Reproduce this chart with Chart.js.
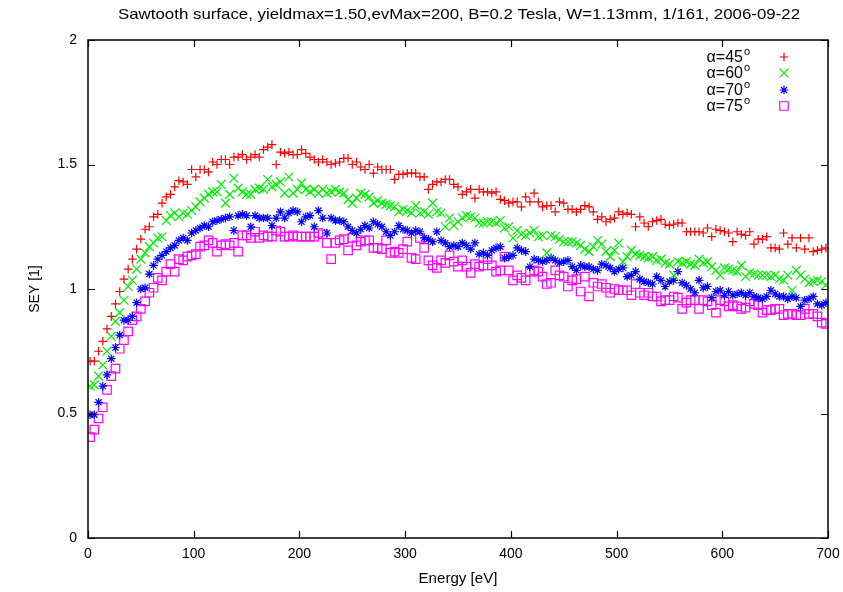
<!DOCTYPE html>
<html>
<head>
<meta charset="utf-8">
<script src="https://cdn.jsdelivr.net/npm/chart.js@4.4.1/dist/chart.umd.min.js"></script>
<style>
  html, body { margin: 0; padding: 0; background: #fff; }
</style>
</head>
<body>
<canvas id="chart" width="843" height="592"></canvas>
<script>
// energy grid in eV (bin centres)
const energy = [
  2, 6, 10, 14, 18, 22, 26, 30, 34, 38, 42, 46, 50, 54, 58, 62, 66, 70, 74, 78, 82, 86, 90, 94, 98,
  102, 106, 110, 114, 118, 122, 126, 130, 134, 138, 142, 146, 150, 154, 158, 162, 166, 170, 174, 178, 182, 186, 190, 194, 198,
  202, 206, 210, 214, 218, 222, 226, 230, 234, 238, 242, 246, 250, 254, 258, 262, 266, 270, 274, 278, 282, 286, 290, 294, 298,
  302, 306, 310, 314, 318, 322, 326, 330, 334, 338, 342, 346, 350, 354, 358, 362, 366, 370, 374, 378, 382, 386, 390, 394, 398,
  402, 406, 410, 414, 418, 422, 426, 430, 434, 438, 442, 446, 450, 454, 458, 462, 466, 470, 474, 478, 482, 486, 490, 494, 498,
  502, 506, 510, 514, 518, 522, 526, 530, 534, 538, 542, 546, 550, 554, 558, 562, 566, 570, 574, 578, 582, 586, 590, 594, 598,
  602, 606, 610, 614, 618, 622, 626, 630, 634, 638, 642, 646, 650, 654, 658, 662, 666, 670, 674, 678, 682, 686, 690, 694, 698
];

const sey45 = [
  0.71, 0.71, 0.75, 0.79, 0.84, 0.89, 0.94, 0.99, 1.04, 1.08, 1.12, 1.16, 1.20, 1.24, 1.25, 1.29, 1.30, 1.345, 1.37, 1.38, 1.41, 1.435, 1.43, 1.42, 1.48,
  1.45, 1.48, 1.48, 1.47, 1.51, 1.50, 1.52, 1.52, 1.50, 1.53, 1.53, 1.54, 1.52, 1.53, 1.54, 1.53, 1.56, 1.57, 1.58, 1.50, 1.55, 1.545, 1.55, 1.54, 1.54,
  1.56, 1.545, 1.53, 1.52, 1.51, 1.52, 1.51, 1.50, 1.505, 1.51, 1.525, 1.525, 1.50, 1.51, 1.49, 1.48, 1.50, 1.465, 1.49, 1.48, 1.48, 1.48, 1.44, 1.46, 1.46,
  1.465, 1.465, 1.465, 1.45, 1.45, 1.40, 1.42, 1.43, 1.43, 1.44, 1.44, 1.42, 1.41, 1.38, 1.39, 1.40, 1.365, 1.40, 1.39, 1.39, 1.385, 1.39, 1.36, 1.355, 1.345,
  1.35, 1.35, 1.33, 1.37, 1.35, 1.385, 1.35, 1.33, 1.335, 1.335, 1.31, 1.35, 1.345, 1.32, 1.32, 1.31, 1.32, 1.335, 1.33, 1.31, 1.28, 1.29, 1.27, 1.28, 1.285,
  1.31, 1.30, 1.305, 1.30, 1.25, 1.29, 1.265, 1.25, 1.27, 1.275, 1.28, 1.26, 1.255, 1.26, 1.265, 1.265, 1.23, 1.23, 1.23, 1.23, 1.225, 1.245, 1.21, 1.24, 1.235,
  1.23, 1.225, 1.19, 1.23, 1.22, 1.215, 1.23, 1.18, 1.20, 1.20, 1.21, 1.165, 1.165, 1.16, 1.225, 1.18, 1.205, 1.165, 1.205, 1.16, 1.205, 1.15, 1.155, 1.16, 1.165
];

const sey60 = [
  0.61, 0.615, 0.65, 0.695, 0.75, 0.81, 0.87, 0.905, 0.955, 1.01, 1.035, 1.08, 1.12, 1.145, 1.17, 1.185, 1.205, 1.21, 1.275, 1.295, 1.305, 1.29, 1.305, 1.30, 1.315,
  1.33, 1.35, 1.365, 1.38, 1.39, 1.39, 1.42, 1.345, 1.38, 1.445, 1.405, 1.39, 1.38, 1.38, 1.40, 1.405, 1.40, 1.44, 1.41, 1.42, 1.43, 1.385, 1.45, 1.385, 1.40,
  1.425, 1.40, 1.39, 1.40, 1.385, 1.40, 1.385, 1.39, 1.40, 1.39, 1.385, 1.36, 1.345, 1.365, 1.385, 1.38, 1.37, 1.345, 1.355, 1.345, 1.34, 1.335, 1.33, 1.31, 1.32,
  1.315, 1.305, 1.335, 1.305, 1.31, 1.30, 1.345, 1.31, 1.305, 1.25, 1.285, 1.255, 1.27, 1.285, 1.295, 1.29, 1.285, 1.265, 1.265, 1.27, 1.27, 1.265, 1.275, 1.245, 1.25,
  1.205, 1.235, 1.22, 1.215, 1.225, 1.235, 1.21, 1.215, 1.145, 1.215, 1.21, 1.20, 1.19, 1.19, 1.19, 1.185, 1.175, 1.16, 1.15, 1.17, 1.195, 1.18, 1.15, 1.13, 1.155,
  1.185, 1.11, 1.13, 1.155, 1.14, 1.135, 1.13, 1.125, 1.13, 1.115, 1.12, 1.105, 1.10, 1.055, 1.11, 1.105, 1.11, 1.10, 1.095, 1.12, 1.105, 1.11, 1.09, 1.075, 1.055,
  1.085, 1.08, 1.075, 1.07, 1.095, 1.05, 1.065, 1.06, 1.055, 1.055, 1.055, 1.05, 1.055, 1.04, 1.035, 1.055, 0.995, 1.075, 1.055, 1.04, 1.025, 1.03, 1.035, 1.03, 1.015
];

const sey70 = [
  0.495, 0.495, 0.545, 0.61, 0.655, 0.72, 0.765, 0.815, 0.875, 0.875, 0.89, 0.945, 1.0, 1.005, 1.06, 1.095, 1.12, 1.135, 1.15, 1.165, 1.175, 1.195, 1.205, 1.195, 1.225,
  1.235, 1.245, 1.255, 1.25, 1.27, 1.275, 1.28, 1.285, 1.29, 1.235, 1.295, 1.30, 1.295, 1.25, 1.295, 1.285, 1.285, 1.285, 1.255, 1.285, 1.31, 1.285, 1.305, 1.315, 1.31,
  1.27, 1.29, 1.295, 1.25, 1.315, 1.285, 1.225, 1.285, 1.275, 1.275, 1.27, 1.25, 1.235, 1.225, 1.24, 1.255, 1.245, 1.27, 1.26, 1.25, 1.23, 1.215, 1.23, 1.255, 1.24,
  1.235, 1.225, 1.235, 1.23, 1.205, 1.20, 1.19, 1.23, 1.195, 1.185, 1.17, 1.175, 1.17, 1.185, 1.175, 1.16, 1.185, 1.14, 1.145, 1.135, 1.155, 1.165, 1.17, 1.125, 1.13,
  1.135, 1.165, 1.155, 1.15, 1.09, 1.12, 1.115, 1.11, 1.115, 1.125, 1.115, 1.105, 1.11, 1.115, 1.09, 1.075, 1.095, 1.09, 1.09, 1.08, 1.075, 1.10, 1.095, 1.085, 1.07,
  1.08, 1.085, 1.05, 1.055, 1.07, 1.04, 1.03, 1.025, 1.02, 1.05, 1.035, 1.01, 1.03, 1.035, 1.07, 1.025, 1.015, 1.00, 0.985, 1.035, 1.005, 1.01, 0.965, 0.99, 0.995,
  0.975, 0.99, 0.975, 0.98, 0.985, 0.975, 0.985, 0.97, 0.965, 0.96, 0.97, 0.995, 0.98, 0.97, 0.97, 0.96, 0.97, 0.965, 0.93, 0.955, 0.96, 0.97, 0.94, 0.935, 0.945
];

const sey75 = [
  0.405, 0.435, 0.48, 0.525, 0.595, 0.65, 0.68, 0.76, 0.795, 0.83, 0.875, 0.89, 0.92, 0.95, 0.985, 1.005, 1.045, 1.035, 1.07, 1.10, 1.07, 1.12, 1.115, 1.13, 1.135,
  1.14, 1.17, 1.175, 1.195, 1.185, 1.15, 1.175, 1.18, 1.175, 1.185, 1.15, 1.215, 1.215, 1.205, 1.23, 1.205, 1.215, 1.21, 1.21, 1.235, 1.23, 1.21, 1.21, 1.215, 1.21,
  1.21, 1.21, 1.21, 1.21, 1.225, 1.22, 1.185, 1.12, 1.185, 1.195, 1.20, 1.155, 1.205, 1.175, 1.19, 1.195, 1.195, 1.165, 1.165, 1.16, 1.195, 1.145, 1.15, 1.145, 1.16,
  1.19, 1.125, 1.12, 1.205, 1.165, 1.115, 1.095, 1.085, 1.115, 1.105, 1.135, 1.11, 1.09, 1.115, 1.09, 1.065, 1.10, 1.09, 1.095, 1.12, 1.095, 1.07, 1.075, 1.13, 1.075,
  1.035, 1.055, 1.045, 1.035, 1.07, 1.075, 1.07, 1.05, 1.02, 1.025, 1.075, 1.055, 1.05, 1.01, 1.035, 1.04, 0.99, 1.05, 0.97, 1.025, 1.01, 1.02, 1.005, 0.985, 1.0,
  0.995, 0.995, 0.995, 0.975, 1.02, 0.985, 0.975, 0.985, 0.97, 0.97, 0.95, 0.955, 0.955, 0.97, 0.965, 0.92, 0.945, 0.955, 0.955, 0.92, 0.955, 0.95, 0.935, 0.905, 0.955,
  0.95, 0.93, 0.935, 0.93, 0.92, 0.925, 0.95, 0.94, 0.935, 0.905, 0.915, 0.915, 0.92, 0.92, 0.895, 0.90, 0.90, 0.895, 0.895, 0.92, 0.90, 0.90, 0.89, 0.865, 0.86
];

const angles = ['45', '60', '70', '75'];
const colors = ['#ff0000', '#00f000', '#0000ff', '#ff00ff'];
const styles = ['cross', 'crossRot', 'star', 'rect'];
const radii = [4.3, 6.2, 4.3, 6];
const xTicks = [0, 100, 200, 300, 400, 500, 600, 700];
const yTicks = [0, 0.5, 1, 1.5, 2];

const FONT = '"Liberation Sans", Arial, Helvetica, sans-serif';
const title = 'Sawtooth surface, yieldmax=1.50,evMax=200, B=0.2 Tesla, W=1.13mm, 1/161, 2006-09-22';

const toPoints = (vals) => energy.map((e, i) => ({ x: e, y: vals[i] }));
const seriesVals = [sey45, sey60, sey70, sey75];

// text squeezed/stretched to a given width, like the gnuplot output
function fitText(ctx, text, cx, cy, width) {
  const w = ctx.measureText(text).width;
  ctx.save();
  ctx.translate(cx, cy);
  ctx.scale(width / w, 1);
  ctx.fillText(text, 0, 0);
  ctx.restore();
}

// gnuplot-like frame, inward mirrored ticks, titles and key
const frame = {
  id: 'frame',
  afterDraw(chart) {
    const { ctx, chartArea: a, scales: { x, y } } = chart;
    ctx.save();
    ctx.strokeStyle = '#000';
    ctx.lineWidth = 1.5;
    ctx.strokeRect(a.left, a.top, a.right - a.left, a.bottom - a.top);
    ctx.lineWidth = 1.2;
    ctx.beginPath();
    xTicks.forEach(v => {
      const px = Math.round(x.getPixelForValue(v)) + 0.5;
      ctx.moveTo(px, a.bottom); ctx.lineTo(px, a.bottom - 7);
      ctx.moveTo(px, a.top); ctx.lineTo(px, a.top + 7);
    });
    yTicks.forEach(v => {
      const py = Math.round(y.getPixelForValue(v)) + 0.5;
      ctx.moveTo(a.left, py); ctx.lineTo(a.left + 7, py);
      ctx.moveTo(a.right, py); ctx.lineTo(a.right - 7, py);
    });
    ctx.stroke();

    ctx.fillStyle = '#000';
    ctx.textAlign = 'center';
    ctx.textBaseline = 'middle';
    ctx.font = '15px ' + FONT;
    fitText(ctx, title, 459, 15, 682);
    ctx.font = '14px ' + FONT;
    fitText(ctx, 'Energy [eV]', 458, 579, 79);
    ctx.save();
    ctx.translate(35, (a.top + a.bottom) / 2);
    ctx.rotate(-Math.PI / 2);
    ctx.fillText('SEY [1]', 0, 0);
    ctx.restore();

    // key text
    const rows = [57, 73, 90, 106];
    angles.forEach((ang, i) => {
      ctx.textAlign = 'right';
      ctx.font = '16px ' + FONT;
      ctx.fillText('\u03b1=' + ang, 743, rows[i] + 1);
      ctx.textAlign = 'left';
      ctx.font = '11px ' + FONT;
      ctx.fillText('o', 744, rows[i] - 5);
    });
    ctx.restore();

    // key markers
    angles.forEach((ang, i) => {
      ctx.save();
      ctx.strokeStyle = colors[i];
      ctx.fillStyle = 'rgba(0,0,0,0)';
      ctx.lineWidth = 1.2;
      Chart.helpers.drawPoint(ctx, { pointStyle: styles[i], radius: radii[i], borderWidth: 1.2 }, 784, rows[i]);
      ctx.restore();
    });
  }
};
const rows = [57, 73, 90, 106];

new Chart(document.getElementById('chart'), {
  type: 'scatter',
  data: {
    datasets: seriesVals.map((vals, i) => ({
      label: '\u03b1=' + angles[i],
      data: toPoints(vals),
      pointStyle: styles[i],
      pointRadius: radii[i],
      borderColor: colors[i],
      backgroundColor: 'rgba(0,0,0,0)',
      borderWidth: 1.2,
      showLine: false
    }))
  },
  options: {
    responsive: false,
    animation: false,
    layout: { padding: { top: 40, right: 15, left: 0, bottom: 0 } },
    plugins: {
      legend: { display: false },
      tooltip: { enabled: false },
      title: { display: false }
    },
    scales: {
      x: {
        type: 'linear',
        min: 0,
        max: 700,
        afterBuildTicks: s => { s.ticks = xTicks.map(v => ({ value: v })); },
        ticks: { color: '#000', font: { family: FONT, size: 14 }, padding: 8, maxRotation: 0 },
        grid: { display: true, drawOnChartArea: false, drawTicks: false },
        border: { display: false },
        afterFit: s => { s.height = 54; s.paddingLeft = 0; s.paddingRight = 0; }
      },
      y: {
        min: 0,
        max: 2,
        afterBuildTicks: s => { s.ticks = yTicks.map(v => ({ value: v })); },
        ticks: { color: '#000', font: { family: FONT, size: 14 }, padding: 11, callback: v => String(v) },
        grid: { display: true, drawOnChartArea: false, drawTicks: false },
        border: { display: false },
        afterFit: s => { s.width = 88; s.paddingTop = 0; s.paddingBottom = 0; }
      }
    }
  },
  plugins: [frame]
});
</script>
</body>
</html>
